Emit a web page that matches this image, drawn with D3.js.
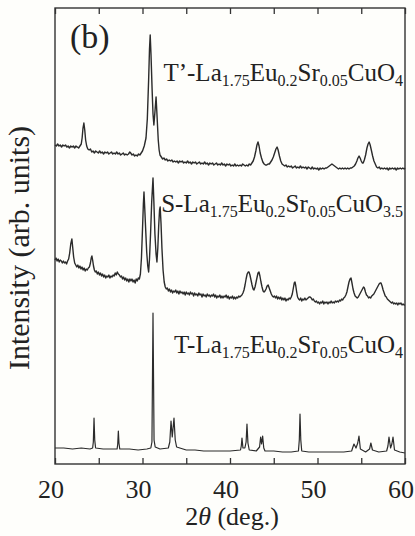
<!DOCTYPE html>
<html>
<head>
<meta charset="utf-8">
<script src="https://cdn.jsdelivr.net/npm/d3@7"></script>
<style>
  body { margin: 0; background: #fefefb; }
  svg { display: block; }
  text { font-family: "Liberation Serif", "Times New Roman", Times, serif; fill: #222; }
</style>
</head>
<body>
<div class="bigvis"></div>
<script>
var width = 415
var height = 536
var margin = {top: 8, right: 10, bottom: 72, left: 55}

// 2theta (deg), intensity (arb.)
var tPrimeData = [
  [20.0,29],[20.15,28],[20.3,30],[20.45,28],[20.6,29],[20.75,27],[20.9,29],[21.05,28],[21.2,29],[21.35,27],
  [21.5,28],[21.65,26],[21.8,28],[21.95,27],[22.1,28],[22.25,26],[22.4,28],[22.55,27],[22.7,26],[22.85,28],
  [23.0,30],[23.1,36],[23.2,46],[23.3,51],[23.4,44],[23.5,34],[23.62,28],[23.75,25],[23.9,24],[24.05,25],
  [24.2,22],[24.35,23],[24.5,21],[24.65,23],[24.8,22],[24.95,21],[25.1,23],[25.25,21],[25.4,22],[25.55,20],
  [25.7,22],[25.85,21],[26.0,22],[26.15,20],[26.3,21],[26.45,22],[26.6,20],[26.75,21],[26.9,20],[27.05,22],
  [27.2,20],[27.35,21],[27.5,19],[27.65,20],[27.8,21],[27.95,19],[28.1,20],[28.25,19],[28.4,20],[28.55,22],
  [28.65,21],[28.8,19],[28.95,20],[29.1,18],[29.25,19],[29.4,18],[29.55,20],[29.7,19],[29.85,21],[30.0,23],
  [30.2,28],[30.4,36],[30.55,55],[30.7,94],[30.8,125],[30.88,139],[30.97,120],[31.1,84],[31.2,60],[31.3,49],
  [31.42,62],[31.55,77],[31.65,60],[31.8,34],[31.9,24],[32.0,19],[32.15,17],[32.3,15],[32.45,16],[32.6,14],
  [32.75,15],[32.9,13],[33.05,14],[33.2,13],[33.35,14],[33.5,12],[33.65,13],[33.8,12],[33.95,13],[34.1,11],
  [34.25,13],[34.4,12],[34.55,13],[34.7,11],[34.85,12],[35.0,11],[35.15,13],[35.3,11],[35.45,12],[35.6,10],
  [35.75,12],[35.9,11],[36.05,12],[36.2,10],[36.35,11],[36.5,12],[36.65,10],[36.8,11],[36.95,10],[37.1,12],
  [37.25,10],[37.4,11],[37.55,9],[37.7,11],[37.85,10],[38.0,11],[38.15,9],[38.3,10],[38.45,11],[38.6,9],
  [38.75,10],[38.9,9],[39.05,11],[39.2,9],[39.35,10],[39.5,8],[39.65,10],[39.8,9],[39.95,10],[40.1,8],
  [40.25,9],[40.4,8],[40.55,10],[40.7,8],[40.85,9],[41.0,8],[41.15,9],[41.3,8],[41.45,10],[41.6,9],
  [41.75,8],[41.9,9],[42.05,8],[42.2,10],[42.35,9],[42.5,11],[42.65,13],[42.8,17],[42.95,23],[43.08,29],
  [43.2,32],[43.32,28],[43.45,21],[43.6,16],[43.75,12],[43.9,10],[44.05,9],[44.2,9],[44.35,10],[44.5,10],
  [44.65,12],[44.8,14],[44.95,17],[45.1,21],[45.25,25],[45.38,27],[45.5,24],[45.65,18],[45.8,13],[45.95,10],
  [46.1,9],[46.25,8],[46.4,9],[46.55,7],[46.7,8],[46.85,7],[47.0,8],[47.15,6],[47.3,7],[47.45,8],
  [47.6,6],[47.75,7],[47.9,6],[48.05,8],[48.2,6],[48.35,7],[48.5,6],[48.65,7],[48.8,5],[48.95,7],
  [49.1,6],[49.25,5],[49.4,7],[49.55,5],[49.7,6],[49.85,5],[50.0,6],[50.15,4],[50.3,6],[50.45,5],
  [50.6,6],[50.75,5],[50.9,6],[51.05,6],[51.2,7],[51.35,8],[51.5,9],[51.65,10],[51.8,9],[51.95,8],
  [52.1,7],[52.25,6],[52.4,5],[52.55,6],[52.7,5],[52.85,6],[53.0,5],[53.15,6],[53.3,5],[53.45,6],
  [53.6,5],[53.75,6],[53.9,6],[54.05,7],[54.2,8],[54.35,10],[54.5,13],[54.62,16],[54.75,18],[54.87,16],
  [55.0,13],[55.12,11],[55.22,11],[55.35,14],[55.5,19],[55.65,26],[55.78,30],[55.9,32],[56.02,29],[56.15,24],
  [56.3,18],[56.45,13],[56.6,10],[56.75,7],[56.9,6],[57.05,7],[57.2,5],[57.35,6],[57.5,5],[57.65,6],
  [57.8,5],[57.95,6],[58.1,4],[58.25,6],[58.4,5],[58.55,6],[58.7,5],[58.85,6],[59.0,4],[59.15,6],
  [59.3,5],[59.45,6],[59.6,5],[59.75,6],[59.9,5],[60.0,6]
]

var sData = [
  [20.0,54],[20.12,56],[20.24,53],[20.36,55],[20.48,52],[20.6,54],[20.72,53],[20.84,51],[20.96,53],[21.08,51],
  [21.2,52],[21.32,50],[21.44,53],[21.56,55],[21.68,61],[21.8,70],[21.93,75],[22.03,66],[22.13,57],[22.25,51],
  [22.37,49],[22.49,47],[22.61,49],[22.73,46],[22.85,48],[22.97,45],[23.09,47],[23.21,44],[23.33,46],[23.45,43],
  [23.57,45],[23.69,44],[23.81,46],[23.93,47],[24.05,51],[24.14,56],[24.22,58],[24.3,54],[24.4,48],[24.5,44],
  [24.6,42],[24.72,43],[24.84,40],[24.96,42],[25.08,39],[25.2,41],[25.32,38],[25.44,40],[25.56,37],[25.68,39],
  [25.8,36],[25.92,38],[26.04,37],[26.16,39],[26.28,36],[26.4,38],[26.52,37],[26.64,39],[26.76,38],[26.88,41],
  [27.0,39],[27.12,42],[27.24,40],[27.36,39],[27.48,37],[27.6,38],[27.72,35],[27.84,37],[27.96,34],[28.08,36],
  [28.2,33],[28.32,35],[28.44,32],[28.56,35],[28.68,33],[28.8,35],[28.92,32],[29.04,34],[29.16,31],[29.28,35],
  [29.4,33],[29.52,36],[29.64,35],[29.76,40],[29.88,56],[30.0,85],[30.1,110],[30.17,122],[30.26,105],[30.36,85],
  [30.48,62],[30.6,48],[30.7,42],[30.8,55],[30.92,80],[31.05,112],[31.2,136],[31.3,112],[31.42,80],[31.55,60],
  [31.65,52],[31.75,66],[31.85,88],[31.95,104],[32.02,107],[32.12,90],[32.22,66],[32.35,44],[32.48,32],[32.6,27],
  [32.72,25],[32.84,26],[32.96,23],[33.08,25],[33.2,22],[33.32,24],[33.44,21],[33.56,23],[33.68,22],[33.8,24],
  [33.92,21],[34.04,23],[34.16,20],[34.28,23],[34.4,21],[34.52,22],[34.64,20],[34.76,22],[34.88,19],[35.0,22],
  [35.12,20],[35.24,21],[35.36,19],[35.48,22],[35.6,20],[35.72,21],[35.84,18],[35.96,21],[36.08,19],[36.2,20],
  [36.32,18],[36.44,21],[36.56,19],[36.68,20],[36.8,17],[36.92,20],[37.04,18],[37.16,19],[37.28,17],[37.4,20],
  [37.52,18],[37.64,19],[37.76,17],[37.88,19],[38.0,18],[38.12,20],[38.24,17],[38.36,19],[38.48,16],[38.6,18],
  [38.72,17],[38.84,19],[38.96,16],[39.08,18],[39.2,16],[39.32,18],[39.44,17],[39.56,19],[39.68,16],[39.8,18],
  [39.92,15],[40.04,17],[40.16,16],[40.28,18],[40.4,15],[40.52,17],[40.64,15],[40.76,17],[40.88,16],[41.0,18],
  [41.12,17],[41.24,18],[41.36,19],[41.48,21],[41.6,24],[41.72,29],[41.84,35],[41.96,40],[42.08,42],[42.17,42],
  [42.28,39],[42.4,34],[42.52,29],[42.64,25],[42.74,24],[42.86,27],[42.98,32],[43.1,37],[43.2,41],[43.31,42],
  [43.42,38],[43.54,32],[43.66,27],[43.78,23],[43.89,22],[44.0,23],[44.12,25],[44.24,28],[44.36,29],[44.48,26],
  [44.6,23],[44.72,20],[44.84,18],[44.96,17],[45.08,18],[45.2,16],[45.32,18],[45.44,15],[45.56,17],[45.68,15],
  [45.8,17],[45.92,14],[46.04,16],[46.16,14],[46.28,16],[46.4,13],[46.52,15],[46.64,14],[46.76,16],[46.88,15],
  [47.0,17],[47.12,20],[47.24,26],[47.34,31],[47.43,32],[47.52,28],[47.62,22],[47.72,17],[47.84,15],[47.96,14],
  [48.08,16],[48.2,13],[48.32,15],[48.44,14],[48.56,16],[48.68,14],[48.8,15],[48.92,16],[49.04,17],[49.16,17],
  [49.28,16],[49.4,14],[49.52,15],[49.64,13],[49.76,12],[49.88,13],[50.0,11],[50.12,12],[50.24,10],[50.36,12],
  [50.48,11],[50.6,13],[50.72,10],[50.84,12],[50.96,11],[51.08,12],[51.2,10],[51.32,12],[51.44,11],[51.56,13],
  [51.68,11],[51.8,12],[51.92,11],[52.04,13],[52.16,12],[52.28,13],[52.4,12],[52.52,14],[52.64,13],[52.76,15],
  [52.88,14],[53.0,16],[53.12,17],[53.24,19],[53.36,22],[53.48,27],[53.6,32],[53.72,35],[53.83,36],[53.94,31],
  [54.06,25],[54.18,21],[54.3,18],[54.42,17],[54.54,16],[54.66,17],[54.78,19],[54.9,21],[55.02,23],[55.14,25],
  [55.26,27],[55.36,26],[55.48,22],[55.6,19],[55.72,18],[55.84,16],[55.96,17],[56.08,16],[56.2,18],[56.32,19],
  [56.44,20],[56.56,22],[56.68,24],[56.8,26],[56.92,28],[57.04,30],[57.16,31],[57.26,31],[57.38,28],[57.5,24],
  [57.62,21],[57.74,18],[57.86,17],[57.98,15],[58.1,14],[58.22,13],[58.34,12],[58.46,11],[58.58,12],[58.7,10],
  [58.82,11],[58.94,10],[59.06,11],[59.18,9],[59.3,11],[59.42,10],[59.54,11],[59.66,9],[59.78,10],[59.9,9],
  [60.0,9]
]

var tData = [
  [20.0,16],[21.0,16],[22.0,15],[23.0,16],[24.0,15],[24.3,16],[24.38,22],[24.46,46],[24.54,24],[24.64,16],
  [25.5,15],[26.5,15],[27.1,15],[27.17,20],[27.24,33],[27.31,21],[27.4,15],[28.5,15],[29.5,14],[30.5,15],
  [30.95,16],[31.08,22],[31.2,151],[31.32,24],[31.45,17],[32.0,15],[32.95,16],[33.12,22],[33.26,43],[33.4,27],
  [33.6,46],[33.74,24],[33.9,17],[35.0,14],[36.0,14],[37.0,13],[38.5,13],[40.0,13],[41.2,14],[41.29,18],
  [41.37,26],[41.48,16],[41.7,16],[41.84,22],[41.94,40],[42.05,21],[42.2,14],[43.0,13],[43.38,17],[43.5,27],
  [43.61,20],[43.73,28],[43.86,16],[44.0,13],[45.0,13],[46.0,12],[47.0,12],[47.82,13],[47.92,24],[48.0,50],
  [48.09,24],[48.2,13],[49.0,12],[50.0,12],[51.0,12],[52.0,12],[53.0,12],[53.9,13],[54.05,17],[54.17,20],
  [54.4,16],[54.6,21],[54.74,28],[54.9,15],[55.5,12],[55.95,15],[56.1,21],[56.28,14],[57.0,12],[57.9,13],
  [58.05,18],[58.17,27],[58.35,16],[58.5,20],[58.63,27],[58.8,14],[59.4,12],[60.0,11]
]

var patterns = [tData, sData, tPrimeData]
var offsets = [0, 150, 290]
var strokeW = [1.2, 1.4, 1.4]

var labelParts = [
  ["T-La", "1.75", "Eu", "0.2", "Sr", "0.05", "CuO", "4"],
  ["S-La", "1.75", "Eu", "0.2", "Sr", "0.05", "CuO", "3.5"],
  ["T’-La", "1.75", "Eu", "0.2", "Sr", "0.05", "CuO", "4"]
]
var labelY = [353, 212, 81]

var xTicks = [20, 25, 30, 35, 40, 45, 50, 55, 60]
var xTickLabels = [20, 30, 40, 50, 60]

var svg = d3.select(".bigvis").append("svg")
    .attr("width", width)
    .attr("height", height)
    .attr("font-family", "Liberation Serif, Times New Roman, serif")

var x = d3.scaleLinear().domain([20, 60]).range([margin.left, width - margin.right])
var y = d3.scaleLinear().domain([0, 456]).range([height - margin.bottom, margin.top])

var line = d3.line()
    .x(function(d){ return x(d[0]) })

patterns.forEach(function(data, i){
  line.y(function(d){ return y(d[1] + offsets[i]) })
  svg.append("path")
    .attr("d", line(data))
    .attr("fill", "none")
    .attr("stroke", "#2b2b2b")
    .attr("stroke-width", strokeW[i])
    .attr("stroke-linejoin", "round")
})

// frame
svg.append("rect")
    .attr("x", x(20))
    .attr("y", y(456))
    .attr("width", x(60) - x(20))
    .attr("height", y(0) - y(456))
    .attr("fill", "none")
    .attr("stroke", "#333")
    .attr("stroke-width", 1.4)

var bottomAxis = d3.axisBottom(x).tickValues(xTicks).tickSize(-6).tickFormat("")
var topAxis = d3.axisTop(x).tickValues(xTicks).tickSize(-6).tickFormat("")

svg.append("g")
    .attr("transform", "translate(0," + y(0) + ")")
    .call(bottomAxis)
    .call(function(g){ g.select(".domain").remove() })
    .selectAll("line").attr("stroke", "#333").attr("stroke-width", 1.3)

svg.append("g")
    .attr("transform", "translate(0," + y(456) + ")")
    .call(topAxis)
    .call(function(g){ g.select(".domain").remove() })
    .selectAll("line").attr("stroke", "#333").attr("stroke-width", 1.3)

svg.selectAll("text.xtick")
    .data(xTickLabels)
    .enter().append("text")
    .attr("class", "xtick")
    .attr("x", function(d){ return x(d) - 4 })
    .attr("y", 498)
    .attr("text-anchor", "middle")
    .attr("font-size", 26)
    .text(function(d){ return d })

var xl = svg.append("text")
    .attr("x", 232)
    .attr("y", 525)
    .attr("text-anchor", "middle")
    .attr("font-size", 26)
xl.append("tspan").text("2")
xl.append("tspan").attr("font-style", "italic").text("θ")
xl.append("tspan").text(" (deg.)")

svg.append("text")
    .attr("transform", "translate(29,248) rotate(-90)")
    .attr("text-anchor", "middle")
    .attr("font-size", 30)
    .text("Intensity (arb. units)")

svg.append("text")
    .attr("x", 70)
    .attr("y", 48)
    .attr("font-size", 34)
    .text("(b)")

labelParts.forEach(function(parts, i){
  var t = svg.append("text")
      .attr("x", 403)
      .attr("y", labelY[i])
      .attr("text-anchor", "end")
      .attr("font-size", 25)
  parts.forEach(function(p, j){
    var sub = j % 2 == 1
    t.append("tspan")
      .attr("font-size", sub ? 16 : 25)
      .attr("dy", sub ? 5 : (j == 0 ? 0 : -5))
      .text(p)
  })
})
</script>
</body>
</html>
